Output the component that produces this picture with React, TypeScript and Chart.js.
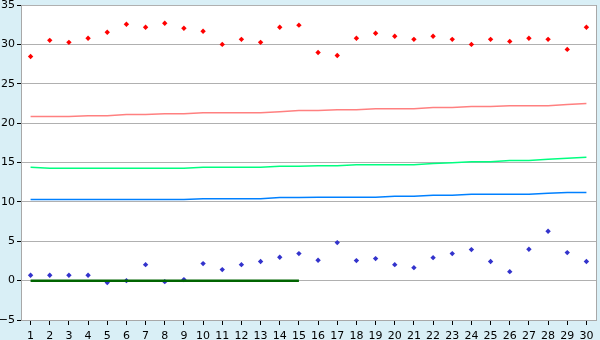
import React, { useEffect, useRef } from "react";
import { Chart, registerables } from "chart.js";

Chart.register(...registerables);

const categories = Array.from({ length: 30 }, (_, i) => String(i + 1));
const yTicks = [-5, 0, 5, 10, 15, 20, 25, 30, 35];

const redPoints = [28.46, 30.51, 30.26, 30.77, 31.54, 32.56, 32.18, 32.69, 32.05, 31.67,
  30.0, 30.64, 30.26, 32.18, 32.44, 28.97, 28.59, 30.77, 31.41, 31.03,
  30.64, 31.03, 30.64, 30.0, 30.64, 30.38, 30.77, 30.64, 29.36, 32.18];

const bluePoints = [0.68, 0.68, 0.68, 0.68, -0.25, 0.0, 2.03, -0.13, 0.13, 2.16,
  1.4, 2.03, 2.42, 2.97, 3.43, 2.58, 4.83, 2.54, 2.8, 2.03,
  1.65, 2.92, 3.43, 3.94, 2.42, 1.14, 3.98, 6.27, 3.56, 2.42];

const pinkLine = [20.83, 20.83, 20.83, 20.95, 20.95, 21.08, 21.08, 21.2, 21.2, 21.33,
  21.33, 21.33, 21.33, 21.46, 21.59, 21.59, 21.71, 21.71, 21.84, 21.84,
  21.84, 21.97, 21.97, 22.1, 22.1, 22.22, 22.22, 22.22, 22.35, 22.5];

const greenLine = [14.39, 14.26, 14.26, 14.26, 14.26, 14.26, 14.26, 14.26, 14.26, 14.39,
  14.39, 14.39, 14.39, 14.51, 14.51, 14.6, 14.6, 14.73, 14.73, 14.73,
  14.73, 14.86, 14.98, 15.1, 15.1, 15.24, 15.24, 15.4, 15.53, 15.66];

const blueLine = [10.29, 10.29, 10.29, 10.29, 10.29, 10.29, 10.29, 10.29, 10.29, 10.41,
  10.41, 10.41, 10.41, 10.54, 10.54, 10.58, 10.58, 10.58, 10.58, 10.7,
  10.7, 10.83, 10.83, 10.96, 10.96, 10.96, 10.96, 11.09, 11.2, 11.2];

const zeroLine = [0, 0, 0, 0, 0, 0, 0, 0, 0, 0, 0, 0, 0, 0, 0,
  null, null, null, null, null, null, null, null, null, null, null, null, null, null, null];

const areaPlugin = {
  id: "areaPlugin",
  beforeDraw(chart: any) {
    const { ctx, width, height, chartArea } = chart;
    ctx.save();
    ctx.fillStyle = "#d9eff6";
    ctx.fillRect(0, 0, width, height);
    ctx.fillStyle = "#ffffff";
    ctx.fillRect(chartArea.left, chartArea.top, chartArea.right - chartArea.left, chartArea.bottom - chartArea.top);
    ctx.restore();
  },
  afterDatasetsDraw(chart: any) {
    const { ctx, chartArea } = chart;
    ctx.save();
    ctx.strokeStyle = "#a8a8a8";
    ctx.lineWidth = 1;
    ctx.beginPath();
    ctx.moveTo(Math.round(chartArea.right) + 0.5, chartArea.top);
    ctx.lineTo(Math.round(chartArea.right) + 0.5, chartArea.bottom);
    ctx.stroke();
    ctx.restore();
  },
};

export default function App() {
  const ref = useRef<HTMLCanvasElement | null>(null);
  useEffect(() => {
    document.body.style.margin = "0";
    const font = { family: "'DejaVu Sans', Verdana, sans-serif", size: 11 };
    const lineDs = (data: (number | null)[], color: string, width: number) => ({
      type: "line" as const,
      data,
      borderColor: color,
      backgroundColor: color,
      borderWidth: width,
      pointRadius: 0,
      pointHoverRadius: 0,
      tension: 0,
      fill: false,
      spanGaps: false,
    });
    const pointDs = (data: number[], color: string) => ({
      type: "line" as const,
      data,
      showLine: false,
      borderColor: color,
      backgroundColor: color,
      borderWidth: 0,
      pointStyle: "rectRot" as const,
      pointRadius: 2.7,
      pointBorderWidth: 0,
    });
    const chart = new Chart(ref.current as HTMLCanvasElement, {
      type: "line",
      data: {
        labels: categories,
        datasets: [
          lineDs(pinkLine, "#ff8080", 1.5),
          lineDs(greenLine, "#00ff80", 1.5),
          lineDs(blueLine, "#0080ff", 1.5),
          lineDs(zeroLine, "#006400", 2.5),
          pointDs(redPoints, "#ff0000"),
          pointDs(bluePoints, "#3333cc"),
        ] as any,
      },
      plugins: [areaPlugin],
      options: {
        animation: false,
        responsive: false,
        devicePixelRatio: 1,
        layout: { padding: { top: 5, right: 4, left: 0, bottom: 0 } },
        plugins: { legend: { display: false }, tooltip: { enabled: false } },
        scales: {
          x: {
            type: "category",
            offset: true,
            grid: {
              offset: false,
              drawOnChartArea: false,
              drawTicks: true,
              tickLength: 5,
              tickColor: "#000000",
            },
            border: { display: true, color: "#a8a8a8" },
            ticks: {
              color: "#000000",
              font,
              padding: 5,
              maxRotation: 0,
              autoSkip: false,
            },
            afterFit(scale: any) {
              scale.height = 20;
            },
          },
          y: {
            min: -5,
            max: 35,
            afterBuildTicks(scale: any) {
              scale.ticks = yTicks.map((v) => ({ value: v }));
            },
            grid: {
              color: "#b0b0b0",
              tickLength: 4,
              tickColor: "#000000",
            },
            border: { display: true, color: "#a8a8a8" },
            ticks: {
              color: "#000000",
              font,
              padding: 2,
              callback: (v: any) => (Number(v) < 0 ? "\u2212" + Math.abs(Number(v)) : String(v)),
            },
            afterFit(scale: any) {
              scale.width = 21;
              scale.paddingTop = 0;
              scale.paddingBottom = 0;
            },
          },
        },
      },
    });
    return () => chart.destroy();
  }, []);
  return (
    <div style={{ width: 600, height: 340 }}>
      <canvas ref={ref} width={600} height={340} style={{ display: "block" }} />
    </div>
  );
}
